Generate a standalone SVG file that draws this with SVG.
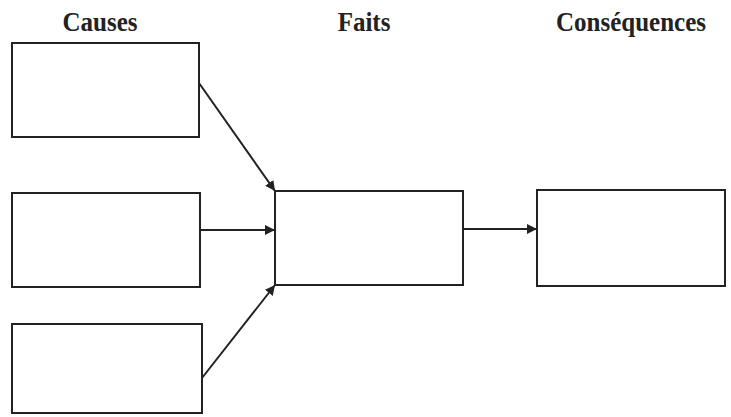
<svg xmlns="http://www.w3.org/2000/svg" width="731" height="417" viewBox="0 0 731 417">
<style>
.box{fill:#fff;stroke:#222;stroke-width:2}
.lbl{font-family:"Liberation Serif","Times New Roman",serif;font-weight:bold;font-size:25px;fill:#222;text-anchor:middle}
.conn{stroke:#222;stroke-width:2;fill:none;marker-end:url(#ah)}
</style>
<defs>
<marker id="ah" viewBox="0 0 10 10" refX="10" refY="5" markerWidth="5" markerHeight="5" orient="auto" markerUnits="strokeWidth">
<path d="M0,0 L10,5 L0,10 z" fill="#222"/>
</marker>
</defs>
<rect width="731" height="417" fill="#fff"/>
<g id="headers">
<text class="lbl" transform="translate(100,31) scale(1,1.1)">Causes</text>
<text class="lbl" transform="translate(364,31) scale(1,1.1)">Faits</text>
<text class="lbl" transform="translate(631,31) scale(1,1.1)">Conséquences</text>
</g>
<g id="cause1"><rect class="box" x="12" y="43" width="187" height="94"/></g>
<g id="cause2"><rect class="box" x="12" y="193" width="188" height="94"/></g>
<g id="cause3"><rect class="box" x="12" y="324" width="190" height="89"/></g>
<g id="faits"><rect class="box" x="275" y="191" width="188" height="94"/></g>
<g id="consequences"><rect class="box" x="537" y="190" width="188" height="96"/></g>
<g id="connectors">
<line class="conn" x1="199" y1="83" x2="275" y2="191"/>
<line class="conn" x1="200" y1="230" x2="275" y2="230"/>
<line class="conn" x1="202" y1="378" x2="275" y2="285"/>
<line class="conn" x1="463" y1="229" x2="537" y2="229"/>
</g>
</svg>
